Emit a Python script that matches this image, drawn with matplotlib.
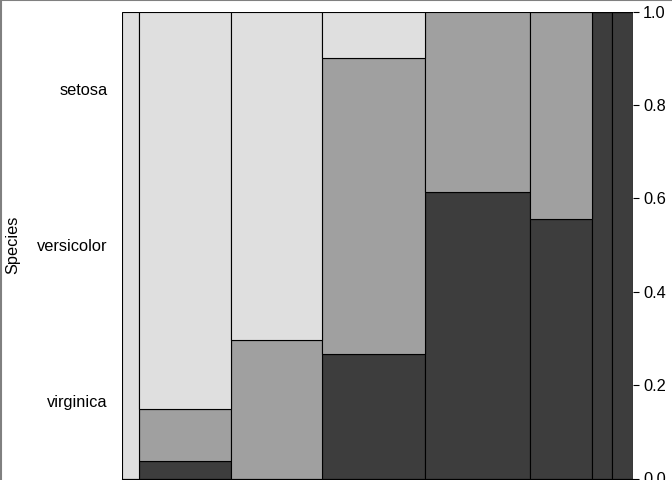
import numpy as np
import matplotlib
matplotlib.use("Agg")
import matplotlib.pyplot as plt
from matplotlib.lines import Line2D

plt.rcParams['font.family'] = ['Liberation Sans', 'DejaVu Sans']

# spineplot of Species by Sepal.Length (iris)
breaks = [4.0, 4.5, 5.0, 5.5, 6.0, 6.5, 7.0, 7.5, 8.0]
species = ['virginica', 'versicolor', 'setosa']  # bottom to top
virginica = [0, 1, 0, 8, 19, 10, 6, 6]
versicolor = [0, 3, 8, 19, 12, 8, 0, 0]
setosa = [5, 23, 19, 3, 0, 0, 0, 0]
fills = ['#3d3d3d', '#a0a0a0', '#dfdfdf']

counts = np.array([virginica, versicolor, setosa], dtype=float)
totals = counts.sum(axis=0)
widths = totals / totals.sum()
lefts = np.concatenate([[0], np.cumsum(widths)[:-1]])
props = counts / totals

fig = plt.figure(figsize=(6.72, 4.8), dpi=100)
ax = fig.add_axes([121.5 / 672, 1.5 / 480, (632.5 - 121.5) / 672, (478.5 - 11.5) / 480])

bottom = np.zeros(len(totals))
for i in range(len(species)):
    ax.bar(lefts, props[i], width=widths, bottom=bottom, align='edge',
           color=fills[i], edgecolor='black', linewidth=0.8)
    bottom += props[i]

ax.set_xlim(0, 1)
ax.set_ylim(0, 1)
for s in ['top', 'left', 'right']:
    ax.spines[s].set_visible(False)
ax.spines['bottom'].set_linewidth(0.8)
# x axis ticks/labels (breaks) sit below the visible area of the reference
ax.set_xticks(np.concatenate([[0], np.cumsum(widths)]))
ax.set_xticklabels([])
ax.tick_params(axis='x', length=0)

# species labels at the middle of the marginal shares
marg = counts.sum(axis=1) / counts.sum()
cum = np.concatenate([[0], np.cumsum(marg)])
ax.set_yticks((cum[:-1] + cum[1:]) / 2)
ax.set_yticklabels(species, fontsize=11.8)
ax.tick_params(axis='y', length=0, pad=10)
ax.set_ylabel('Species', fontsize=11.8)
ax.yaxis.set_label_coords((20 - 121.5) / 511, 0.5)

ax2 = ax.twinx()
ax2.set_ylim(0, 1)
ax2.set_yticks([0, 0.2, 0.4, 0.6, 0.8, 1.0])
ax2.set_yticklabels(['0.0', '0.2', '0.4', '0.6', '0.8', '1.0'], fontsize=11.8)
ax2.tick_params(axis='y', length=4.5, width=0.8, pad=3)
for s in ax2.spines.values():
    s.set_visible(False)

# gray frame on the top and left edge
fig.add_artist(Line2D([0, 1], [0.999, 0.999], color='#808080', lw=1.5, transform=fig.transFigure))
fig.add_artist(Line2D([0.001, 0.001], [0, 1], color='#808080', lw=1.5, transform=fig.transFigure))

fig.savefig('out.png', dpi=100)
